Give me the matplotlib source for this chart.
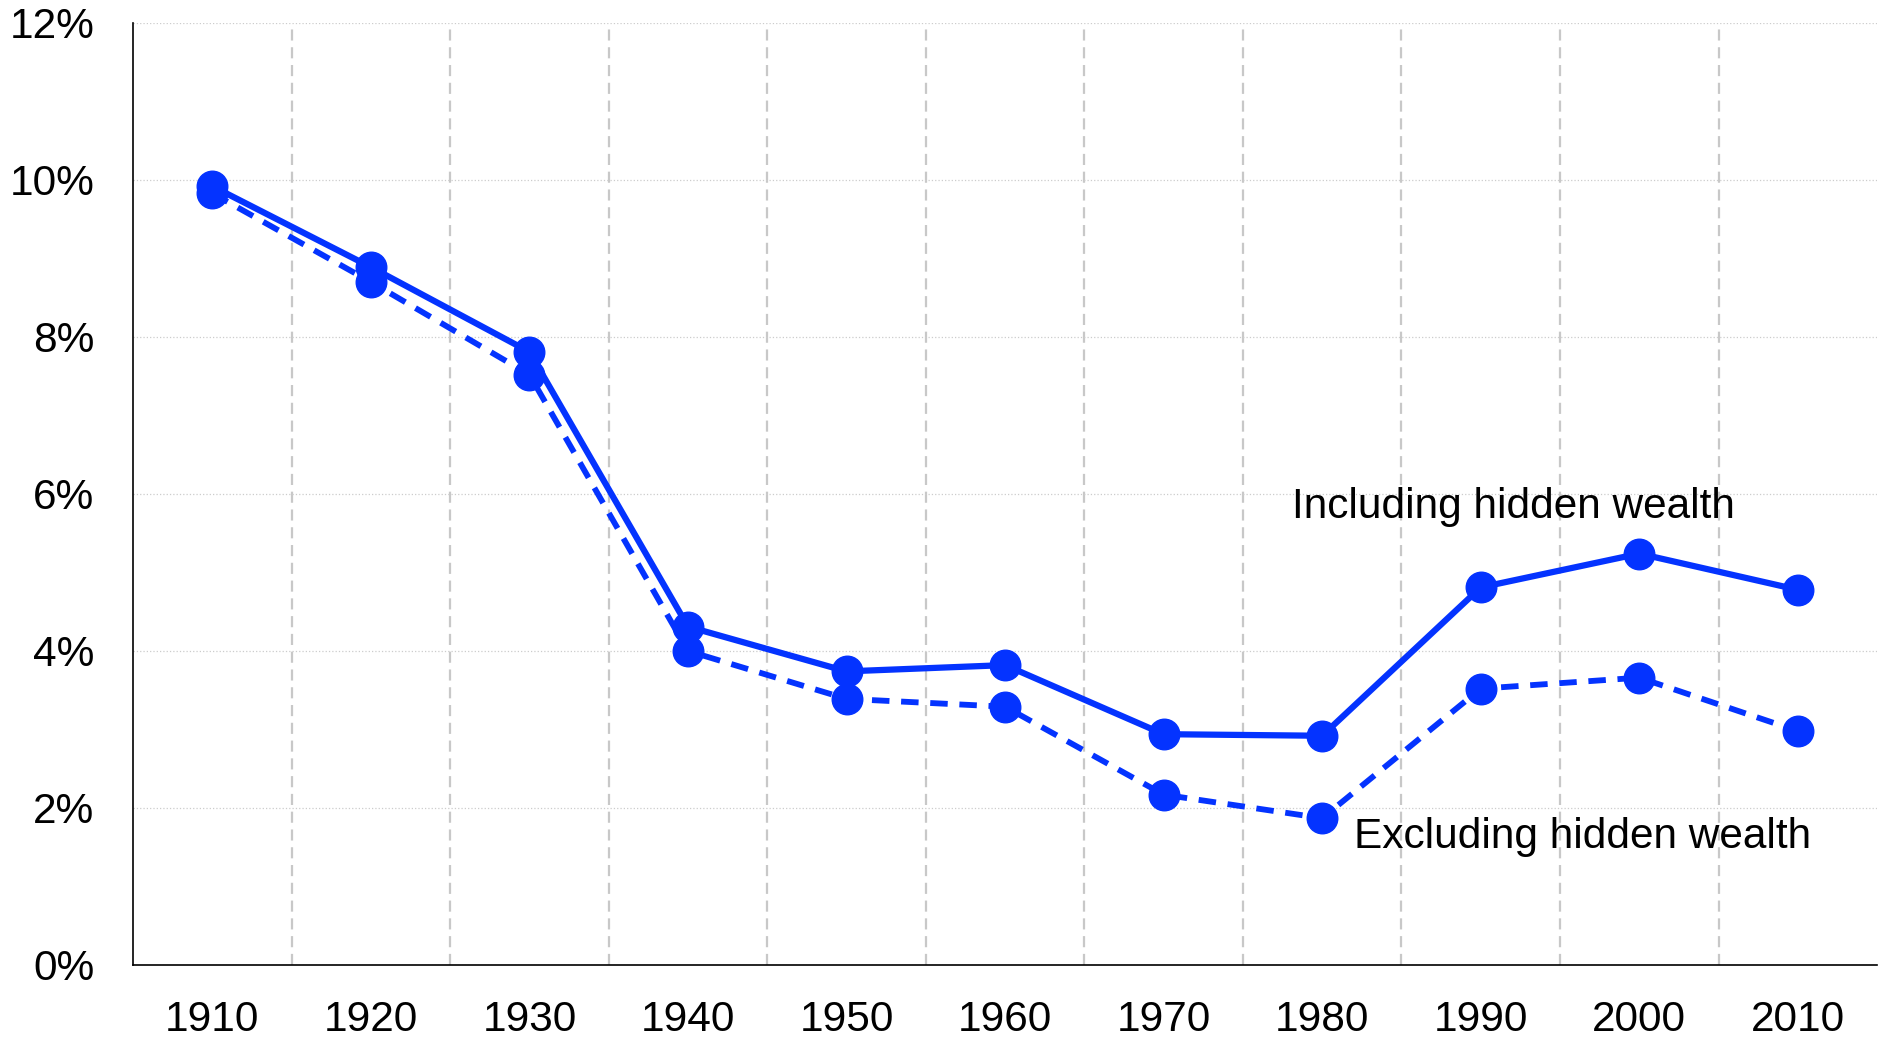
import numpy as np
import matplotlib.pyplot as plt

years = ["1910", "1920", "1930", "1940", "1950", "1960", "1970", "1980", "1990", "2000", "2010"]
including = [9.92, 8.89, 7.81, 4.31, 3.74, 3.82, 2.94, 2.92, 4.81, 5.24, 4.78]
excluding = [9.83, 8.70, 7.52, 4.00, 3.39, 3.29, 2.17, 1.87, 3.52, 3.66, 2.98]
yticks = [0, 2, 4, 6, 8, 10, 12]

BLUE = '#0433ff'
plt.rcParams['font.family'] = ['Liberation Sans', 'DejaVu Sans']

fig = plt.figure(figsize=(18.79, 10.43), dpi=100)
ax = fig.add_axes([0.0708, 0.0748, 0.9282, 0.9032])

x = np.arange(len(years))
ax.plot(x, excluding, color=BLUE, lw=4.2, dashes=(3, 2), marker='o', ms=22, zorder=3)
ax.plot(x, including, color=BLUE, lw=4.5, marker='o', ms=22, zorder=4)

ax.set_xlim(-0.5, len(years) - 0.5)
ax.set_ylim(0, 12)
ax.set_xticks(x)
ax.set_xticklabels(years)
ax.set_yticks(yticks)
ax.set_yticklabels([f"{v}%" for v in yticks])
ax.tick_params(axis='both', length=0, labelsize=30.5)
ax.tick_params(axis='x', pad=25)
ax.tick_params(axis='y', pad=28)

# gridlines: dashed verticals between categories, dotted horizontals
ax.set_xticks(np.arange(0.5, len(years) - 1), minor=True)
ax.tick_params(axis='x', which='minor', length=0)
ax.grid(axis='x', which='minor', color='#c8c8c8', lw=1.6, dashes=(5, 3))
ax.grid(axis='y', which='major', color='#cccccc', lw=0.9, ls=':')
ax.set_axisbelow(True)

for s in ['top', 'right']:
    ax.spines[s].set_visible(False)
for s in ['left', 'bottom']:
    ax.spines[s].set_color('black')
    ax.spines[s].set_linewidth(1.2)

ax.text(6.81, 5.69, "Including hidden wealth", fontsize=30.5, color='black', va='baseline')
ax.text(7.20, 1.49, "Excluding hidden wealth", fontsize=30.5, color='black', va='baseline')

fig.savefig("out.png", dpi=100)
